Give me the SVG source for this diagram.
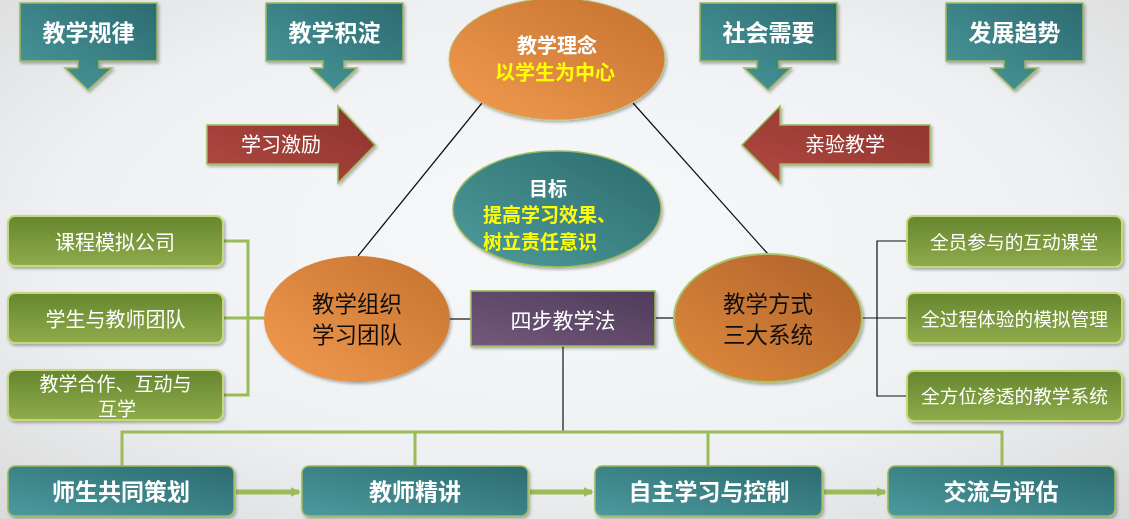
<svg xmlns="http://www.w3.org/2000/svg" width="1129" height="519" viewBox="0 0 1129 519">
<defs>
<radialGradient id="bg" cx="0.5" cy="0.45" r="0.75">
<stop offset="0" stop-color="#f7f9fb"/>
<stop offset="0.6" stop-color="#eef0f2"/>
<stop offset="1" stop-color="#d9d9d9"/>
</radialGradient>
<linearGradient id="teal" x1="0" y1="1" x2="1" y2="0">
<stop offset="0" stop-color="#4b9a9e"/>
<stop offset="1" stop-color="#2c6b70"/>
</linearGradient>
<linearGradient id="red" x1="0" y1="1" x2="1" y2="0">
<stop offset="0" stop-color="#b04a41"/>
<stop offset="1" stop-color="#8e322d"/>
</linearGradient>
<linearGradient id="purple" x1="0" y1="1" x2="1" y2="0">
<stop offset="0" stop-color="#73597c"/>
<stop offset="1" stop-color="#4f3b5a"/>
</linearGradient>
<linearGradient id="green" x1="0" y1="0" x2="0" y2="1">
<stop offset="0" stop-color="#66862f"/>
<stop offset="1" stop-color="#8fac4b"/>
</linearGradient>
<linearGradient id="orange" x1="0" y1="1" x2="1" y2="0">
<stop offset="0" stop-color="#f39b50"/>
<stop offset="1" stop-color="#c4722f"/>
</linearGradient>
<linearGradient id="orange2" x1="0" y1="1" x2="1" y2="0">
<stop offset="0" stop-color="#e08a3e"/>
<stop offset="1" stop-color="#ad6129"/>
</linearGradient>
<linearGradient id="tealE" x1="0" y1="1" x2="1" y2="0">
<stop offset="0" stop-color="#4f9c9c"/>
<stop offset="1" stop-color="#2c6b6e"/>
</linearGradient>
<filter id="sh" x="-10%" y="-10%" width="125%" height="130%">
<feDropShadow dx="1.5" dy="2" stdDeviation="1.5" flood-color="#000" flood-opacity="0.3"/>
</filter>
<marker id="ah" viewBox="0 0 6 6" refX="5" refY="3" markerWidth="2" markerHeight="2" orient="auto">
<path d="M0,0 L6,3 L0,6 Z" fill="#9bbb59"/>
</marker>
<style>
.t{font-family:"Noto Sans CJK SC","Liberation Sans",sans-serif;text-anchor:middle}
.w{fill:#ffffff}
.y{fill:#ffff00}
.k{fill:#111111}
.b{font-weight:bold}
.tealbox{fill:url(#teal);stroke:#9bbb59;stroke-width:1.5}
.redarr{fill:url(#red);stroke:#9bbb59;stroke-width:1.5}
.gbox{fill:url(#green);stroke:#c6d97a;stroke-width:2}
.blk{stroke:#111;stroke-width:1.2;fill:none}
.gl{stroke:#9bbb59;stroke-width:3;fill:none}
.gl2{stroke:#9bbb59;stroke-width:5;fill:none}
</style>
</defs>
<rect width="1129" height="519" fill="url(#bg)"/>

<g id="connectors">
<path class="blk" d="M482,103 L358,256"/>
<path class="blk" d="M633,103 L768,254"/>
<path class="blk" d="M450,319 H471"/>
<path class="blk" d="M655,318 H674"/>
<path class="blk" d="M563,346 V431"/>
<path class="blk" d="M862,318 H877 M907,241 H877 V396 H907 M877,318 H907"/>
<path class="gl" d="M223,241 H248 V395 H223 M223,318 H264"/>
<path class="gl" d="M122,466 V432 H1002 V466 M415,432 V466 M708,432 V466"/>
<path class="gl2" d="M236,492 H299" marker-end="url(#ah)"/>
<path class="gl2" d="M530,492 H592" marker-end="url(#ah)"/>
<path class="gl2" d="M824,492 H885" marker-end="url(#ah)"/>
</g>

<g id="n-guilv" filter="url(#sh)">
<path class="tealbox" d="M20,3 H157 V61 H99 V68 H112 L88,90 L65,68 H78 V61 H20 Z"/>
<text class="t w b" x="88.5" y="41" font-size="23">教学规律</text>
</g>
<g id="n-jidian" filter="url(#sh)">
<path class="tealbox" d="M266,3 H403 V61 H344 V68 H357 L334,90 L311,68 H323 V61 H266 Z"/>
<text class="t w b" x="334.5" y="41" font-size="23">教学积淀</text>
</g>
<g id="n-shehui" filter="url(#sh)">
<path class="tealbox" d="M700,3 H837 V61 H779 V68 H791 L768,90 L744,68 H757 V61 H700 Z"/>
<text class="t w b" x="768.5" y="41" font-size="23">社会需要</text>
</g>
<g id="n-fazhan" filter="url(#sh)">
<path class="tealbox" d="M946,3 H1083 V61 H1025 V68 H1038 L1014,90 L991,68 H1004 V61 H946 Z"/>
<text class="t w b" x="1014.5" y="41" font-size="23">发展趋势</text>
</g>

<g id="n-jili" filter="url(#sh)">
<path class="redarr" d="M207,125 H338 V106 L375,145 L338,183 V164 H207 Z"/>
<text class="t w" x="281" y="152" font-size="20">学习激励</text>
</g>
<g id="n-qinyan" filter="url(#sh)">
<path class="redarr" d="M930,125 H780 V106 L742,145 L780,183 V164 H930 Z"/>
<text class="t w" x="845" y="152" font-size="20">亲验教学</text>
</g>

<g id="n-linian" filter="url(#sh)">
<ellipse cx="557" cy="59" rx="108" ry="61" fill="url(#orange)" stroke="#b9c97a" stroke-width="1"/>
<text class="t w b" x="557" y="53" font-size="20">教学理念</text>
<text class="t y b" x="555" y="80" font-size="20">以学生为中心</text>
</g>

<g id="n-mubiao" filter="url(#sh)">
<ellipse cx="557" cy="209" rx="104" ry="58" fill="url(#tealE)" stroke="#9bbb59" stroke-width="1.5"/>
<text class="t w b" x="548" y="196" font-size="19">目标</text>
<text class="t y b" x="483" y="222" font-size="19" style="text-anchor:start">提高学习效果、</text>
<text class="t y b" x="483" y="249" font-size="19" style="text-anchor:start">树立责任意识</text>
</g>

<g id="n-zuzhi" filter="url(#sh)">
<ellipse cx="357" cy="319" rx="93" ry="63" fill="url(#orange)"/>
<text class="t k" x="357" y="312" font-size="22.5">教学组织</text>
<text class="t k" x="357" y="343" font-size="22.5">学习团队</text>
</g>

<g id="n-fangshi" filter="url(#sh)">
<ellipse cx="768" cy="318" rx="94" ry="64" fill="url(#orange2)" stroke="#a9c46a" stroke-width="2"/>
<text class="t k" x="768" y="312" font-size="22.5">教学方式</text>
<text class="t k" x="768" y="343" font-size="22.5">三大系统</text>
</g>

<g id="n-sibu" filter="url(#sh)">
<rect x="471" y="291" width="184" height="55" fill="url(#purple)" stroke="#9bbb59" stroke-width="1.5"/>
<text class="t w" x="563" y="328" font-size="21">四步教学法</text>
</g>

<g id="n-kecheng" filter="url(#sh)">
<rect class="gbox" x="8" y="216" width="215" height="50" rx="7"/>
<text class="t w" x="115" y="250" font-size="20">课程模拟公司</text>
</g>
<g id="n-tuandui" filter="url(#sh)">
<rect class="gbox" x="8" y="293" width="215" height="50" rx="7"/>
<text class="t w" x="115.5" y="327" font-size="20">学生与教师团队</text>
</g>
<g id="n-hezuo" filter="url(#sh)">
<rect class="gbox" x="8" y="370" width="215" height="50" rx="7"/>
<text class="t w" x="115.5" y="391" font-size="19">教学合作、互动与</text>
<text class="t w" x="117" y="416" font-size="19">互学</text>
</g>

<g id="n-quanyuan" filter="url(#sh)">
<rect class="gbox" x="907" y="216" width="215" height="51" rx="7"/>
<text class="t w" x="1014" y="249" font-size="18.7">全员参与的互动课堂</text>
</g>
<g id="n-quanguocheng" filter="url(#sh)">
<rect class="gbox" x="907" y="293" width="215" height="50" rx="7"/>
<text class="t w" x="1014.5" y="326" font-size="18.7">全过程体验的模拟管理</text>
</g>
<g id="n-quanfangwei" filter="url(#sh)">
<rect class="gbox" x="907" y="371" width="215" height="50" rx="7"/>
<text class="t w" x="1014.5" y="403" font-size="18.7">全方位渗透的教学系统</text>
</g>

<g id="n-cehua" filter="url(#sh)">
<rect class="tealbox" x="8" y="466" width="226" height="50" rx="7"/>
<text class="t w b" x="121" y="500" font-size="23">师生共同策划</text>
</g>
<g id="n-jingjiang" filter="url(#sh)">
<rect class="tealbox" x="302" y="466" width="226" height="50" rx="7"/>
<text class="t w b" x="415" y="500" font-size="23">教师精讲</text>
</g>
<g id="n-zizhu" filter="url(#sh)">
<rect class="tealbox" x="595" y="466" width="227" height="50" rx="7"/>
<text class="t w b" x="709" y="500" font-size="23">自主学习与控制</text>
</g>
<g id="n-jiaoliu" filter="url(#sh)">
<rect class="tealbox" x="888" y="466" width="227" height="50" rx="7"/>
<text class="t w b" x="1001" y="500" font-size="23">交流与评估</text>
</g>
</svg>
